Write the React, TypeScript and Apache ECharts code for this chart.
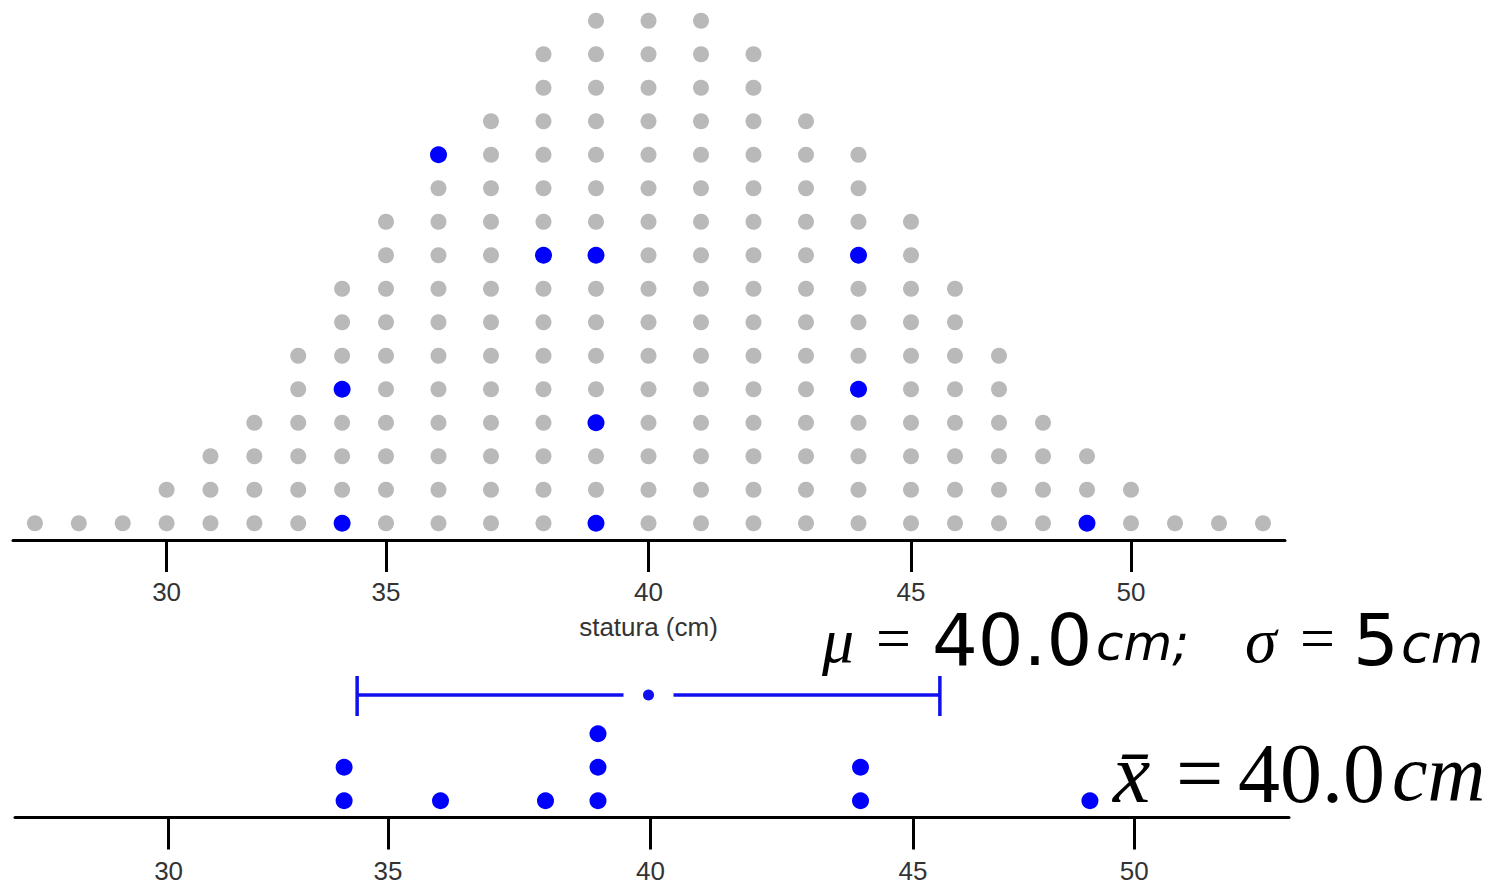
import React, { useEffect, useRef } from "react";
import * as echarts from "echarts";

// Population: number of individuals at each height (cm)
const heights = [27, 28, 29, 30, 31, 32, 33, 34, 35, 36, 37, 38, 39, 40, 41, 42, 43, 44, 45, 46, 47, 48, 49, 50, 51, 52, 53];
const counts = [1, 1, 1, 2, 3, 4, 6, 8, 10, 12, 13, 15, 16, 16, 16, 15, 13, 12, 10, 8, 6, 4, 3, 2, 1, 1, 1];

// A sample of 10 individuals: height and the row it occupies in its population column
const sampleHeights = [34, 34, 36, 38, 39, 39, 39, 44, 44, 49];
const sampleRows = [1, 5, 12, 9, 1, 4, 9, 5, 9, 1];

// Summary statistics
const popMean = 40.0;
const popSd = 5;
const sampleMean = 40.0;
const intervalLow = 34.45;
const intervalHigh = 45.55;

const tickValues = [30, 35, 40, 45, 50];
const axisTitle = "statura (cm)";

// The axis is broken into three pieces: the central 35–45 range is drawn wider than the tails
const segments = [
  { min: 26.5, max: 35, left: 13, width: 373 },
  { min: 35, max: 45, left: 386, width: 525 },
  { min: 45, max: 53.5, left: 911, width: 374 },
];
const segmentOf = (v: number) => (v < 35 ? 0 : v <= 45 ? 1 : 2);

const GRAY = "#b9b9b9";
const BLUE = "#0000ff";
const LINE_BLUE = "#1010ee";
const LABEL_FONT = "'Liberation Sans', Arial, sans-serif";
const SERIF = "'Liberation Serif', 'Times New Roman', serif";
const SANS = "'DejaVu Sans', sans-serif";

export default function App() {
  const ref = useRef<HTMLDivElement>(null);

  useEffect(() => {
    document.body.style.margin = "0";
    const chart = echarts.init(ref.current!, undefined, { renderer: "svg" });

    const grids: any[] = [];
    const xAxes: any[] = [];
    const yAxes: any[] = [];
    const series: any[] = [];

    const makeXAxis = (seg: any, idx: number, gridIndex: number, margin: number, withName: boolean) => {
      const ticks = tickValues.filter((t) => segmentOf(t) === idx);
      return {
        type: "value",
        gridIndex,
        min: seg.min,
        max: seg.max,
        position: "bottom",
        splitLine: { show: false },
        axisLine: { show: true, lineStyle: { color: "#000", width: 3 } },
        axisTick: { show: true, length: 32, lineStyle: { color: "#000", width: 3 }, customValues: ticks },
        axisLabel: {
          show: true,
          customValues: ticks,
          margin,
          color: "#333",
          fontSize: 26,
          fontFamily: LABEL_FONT,
        },
        name: withName ? axisTitle : "",
        nameLocation: "middle",
        nameGap: 74,
        nameTextStyle: { color: "#333", fontSize: 26, fontFamily: LABEL_FONT },
      };
    };

    // Population dot plot (grids 0..2)
    segments.forEach((seg, i) => {
      grids.push({ left: seg.left, width: seg.width, top: 4, bottom: 344 });
      xAxes.push(makeXAxis(seg, i, i, 39, i === 1));
      yAxes.push({ type: "value", gridIndex: i, min: 0.5, max: 16.5, show: false });
    });
    // Sample dot plot (grids 3..5)
    segments.forEach((seg, i) => {
      grids.push({ left: seg.left + 2, width: seg.width + (i === 2 ? 2 : 0), top: 717, bottom: 66.5 });
      xAxes.push(makeXAxis(seg, i, i + 3, 40, false));
      yAxes.push({ type: "value", gridIndex: i + 3, min: 0.5, max: 3.5, show: false });
    });
    // Interval strip (grid 6), shares the central scale
    grids.push({ left: segments[1].left, width: segments[1].width, top: 675, height: 40 });
    xAxes.push({ type: "value", gridIndex: 6, min: segments[1].min, max: segments[1].max, show: false });
    yAxes.push({ type: "value", gridIndex: 6, min: -1, max: 1, show: false });

    // Population points, stacked in columns
    const popPoints: number[][][] = [[], [], []];
    heights.forEach((h, k) => {
      for (let r = 1; r <= counts[k]; r++) popPoints[segmentOf(h)].push([h, r]);
    });
    // Sampled individuals highlighted in the population
    const highlighted: number[][][] = [[], [], []];
    sampleHeights.forEach((h, k) => highlighted[segmentOf(h)].push([h, sampleRows[k]]));
    // Sample stacked on its own axis
    const stacked: number[][][] = [[], [], []];
    const seen: Record<number, number> = {};
    sampleHeights.forEach((h) => {
      seen[h] = (seen[h] || 0) + 1;
      stacked[segmentOf(h)].push([h, seen[h]]);
    });

    for (let i = 0; i < 3; i++) {
      series.push({
        type: "scatter",
        xAxisIndex: i,
        yAxisIndex: i,
        data: popPoints[i],
        symbol: "circle",
        symbolSize: 16,
        itemStyle: { color: GRAY, opacity: 1 },
        clip: false,
        silent: true,
      });
      series.push({
        type: "scatter",
        xAxisIndex: i,
        yAxisIndex: i,
        data: highlighted[i],
        symbol: "circle",
        symbolSize: 17,
        itemStyle: { color: BLUE, opacity: 1 },
        clip: false,
        silent: true,
        z: 3,
      });
      series.push({
        type: "scatter",
        xAxisIndex: i + 3,
        yAxisIndex: i + 3,
        data: stacked[i],
        symbol: "circle",
        symbolSize: 17,
        itemStyle: { color: BLUE, opacity: 1 },
        clip: false,
        silent: true,
      });
    }

    // Interval around the sample mean
    series.push({
      type: "custom",
      xAxisIndex: 6,
      yAxisIndex: 6,
      silent: true,
      data: [[intervalLow, sampleMean, intervalHigh]],
      renderItem: (_params: any, api: any) => {
        const lo = api.coord([api.value(0), 0]);
        const mid = api.coord([api.value(1), 0]);
        const hi = api.coord([api.value(2), 0]);
        const gap = 25;
        const st = { stroke: LINE_BLUE, lineWidth: 3.5 };
        return {
          type: "group",
          children: [
            { type: "line", shape: { x1: lo[0], y1: lo[1], x2: mid[0] - gap, y2: mid[1] }, style: st },
            { type: "line", shape: { x1: mid[0] + gap, y1: mid[1], x2: hi[0], y2: hi[1] }, style: st },
            { type: "line", shape: { x1: lo[0], y1: lo[1] - 19, x2: lo[0], y2: lo[1] + 21 }, style: st },
            { type: "line", shape: { x1: hi[0], y1: hi[1] - 19, x2: hi[0], y2: hi[1] + 21 }, style: st },
            { type: "circle", shape: { cx: mid[0], cy: mid[1], r: 5.5 }, style: { fill: LINE_BLUE } },
          ],
        };
      },
    });

    const txt = (text: string, x: number, y: number, fontSize: number, fontFamily: string, italic = false) => ({
      type: "text",
      x,
      y,
      silent: true,
      style: {
        text,
        fill: "#000",
        fontSize,
        fontFamily,
        fontStyle: italic ? "italic" : "normal",
        align: "left",
        verticalAlign: "middle",
      },
    });

    const graphic = [
      txt("μ", 822, 640, 64, SERIF, true),
      txt("=", 876, 638, 62, SERIF),
      txt(popMean.toFixed(1), 932, 640, 72, SANS),
      txt("cm;", 1096, 643, 50, SANS, true),
      txt("σ", 1245, 640, 64, SERIF, true),
      txt("=", 1300, 638, 62, SERIF),
      txt(String(popSd), 1353, 640, 72, SANS),
      txt("cm", 1401, 643, 54, SANS, true),
      txt("x\u0304", 1113, 773, 84, SERIF, true),
      txt("=", 1176, 773, 84, SERIF),
      txt(sampleMean.toFixed(1), 1238, 773, 84, SERIF),
      txt("cm", 1392, 773, 80, SERIF, true),
    ];

    chart.setOption({
      animation: false,
      backgroundColor: "#fff",
      grid: grids,
      xAxis: xAxes,
      yAxis: yAxes,
      series,
      graphic,
    });

    return () => chart.dispose();
  }, []);

  return (
    <div
      ref={ref}
      style={{ position: "absolute", left: 0, top: 0, width: 1497, height: 884, overflow: "hidden" }}
    />
  );
}
